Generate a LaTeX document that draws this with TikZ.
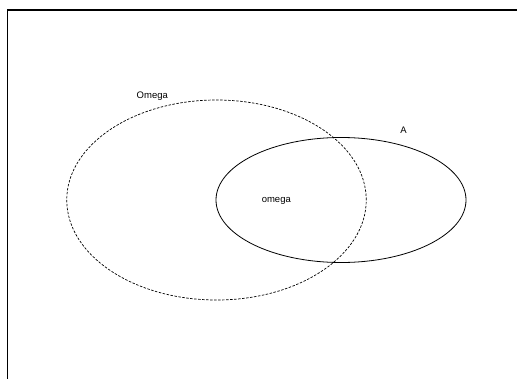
\documentclass[tikz,border=0pt]{standalone}
\usepackage{fontspec}
\setmainfont{Liberation Sans}
\usetikzlibrary{shapes.geometric}
\begin{document}
\begin{tikzpicture}[x=1pt,y=-1pt,
  lbl/.style={font=\fontsize{9.5}{11}\selectfont, inner sep=0pt, anchor=base},
  setline/.style={line width=0.8pt},
  dashset/.style={line width=0.7pt, dash pattern=on 2.5pt off 1.5pt}]
\useasboundingbox (0,0) rectangle (517,378);
\fill[white] (0,0) rectangle (517,378);
% frame (clipped at right and bottom)
\coordinate (ftl) at (7.5,10);
\coordinate (ftr) at (520,10);
\coordinate (fbl) at (7.5,381);
\draw[line width=1.3pt] (fbl) -- (ftl) -- (ftr);
% sets
\node[draw, dashset, ellipse, minimum width=299.5pt, minimum height=200pt, inner sep=0pt] (Om) at (216.5,200) {};
\node[draw, setline, ellipse, minimum width=250pt, minimum height=125pt, inner sep=0pt] (A) at (341,200) {};
% labels
\node[lbl] (tOm) at (152.3,98.3) {Omega};
\node[lbl] (tA) at (403.5,133) {A};
\node[lbl] (tom) at (276.3,202) {omega};
\end{tikzpicture}
\end{document}
